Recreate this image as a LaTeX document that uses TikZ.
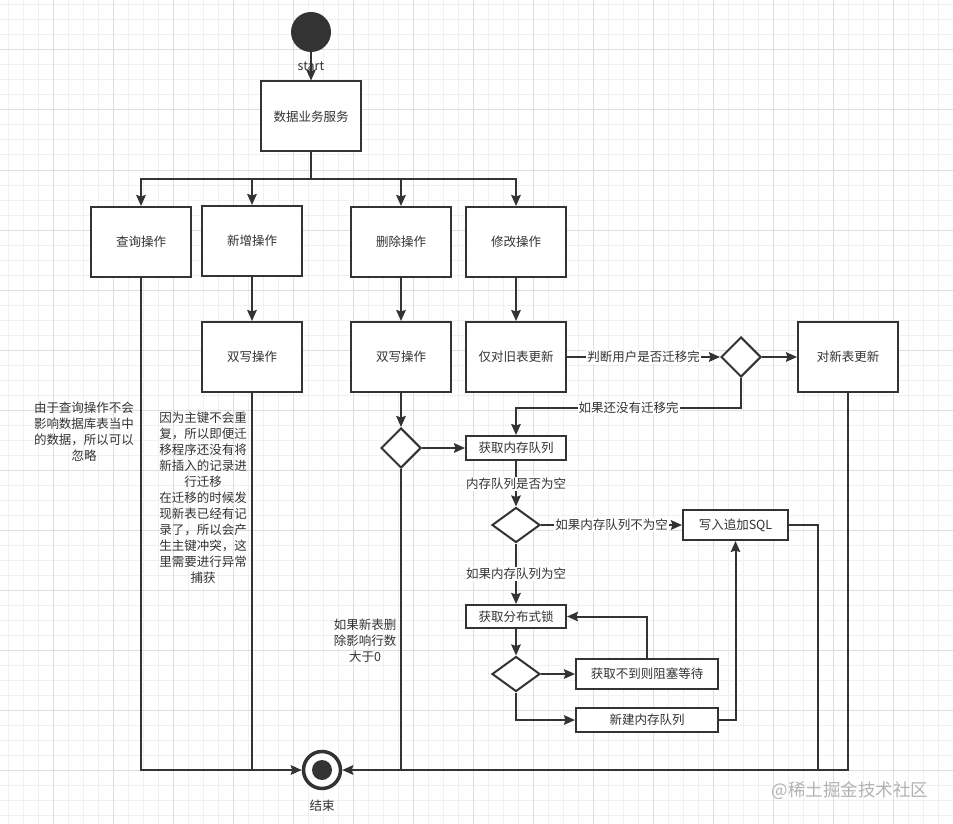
\documentclass[tikz,border=0pt]{standalone}
\usepackage{fontspec}
\newfontfamily\cjk{Noto Sans CJK SC}
\usetikzlibrary{arrows.meta,shapes.geometric}
\definecolor{ink}{HTML}{333333}
\definecolor{gridminor}{HTML}{F0F0F0}
\definecolor{gridmajor}{HTML}{DEDEDE}

\begin{document}
\begin{tikzpicture}[
  x=1pt, y=-1pt,
  font={\cjk\fontsize{12.5}{16}\selectfont},
  box/.style={draw=ink, line width=2pt, fill=white, text=ink, align=center, inner sep=2pt, minimum width=100pt, minimum height=70pt},
  slim/.style={box, minimum height=24pt},
  decision/.style={draw=ink, line width=2pt, fill=white, diamond, inner sep=0pt, minimum width=40pt, minimum height=40pt},
  note/.style={text=ink, align=center},
  lbl/.style={text=ink, fill=white, inner sep=1pt},
  arrow/.style={draw=ink, line width=2pt, -{Stealth[length=11pt, width=9.5pt, inset=1.5pt]}},
  link/.style={draw=ink, line width=2pt},
]
\useasboundingbox (0,0) rectangle (953,824);
\fill[white] (0,0) rectangle (953,824);
% background grid
\foreach \gx in {8,23,...,953} \draw[gridminor, line width=1pt] (\gx,0) -- (\gx,824);
\foreach \gy in {5,20,...,824} \draw[gridminor, line width=1pt] (0,\gy) -- (953,\gy);
\foreach \gx in {53,113,...,953} \draw[gridmajor, line width=1pt] (\gx,0) -- (\gx,824);
\foreach \gy in {50,110,...,824} \draw[gridmajor, line width=1pt] (0,\gy) -- (953,\gy);

% start and service
\node[circle, fill=ink, minimum size=40pt, inner sep=0pt] (start) at (311,32) {};
\node[note] (startlbl) at (311,66) {start};
\node[box] (svc) at (311,116.5) {数据业务服务};
\coordinate (bus) at (311,179);

% operations
\node[box] (query) at (141,242) {查询操作};
\node[box] (insert) at (252,241) {新增操作};
\node[box] (delete) at (401,242) {删除操作};
\node[box] (update) at (516,242) {修改操作};

\node[box] (dw1) at (252,357) {双写操作};
\node[box] (dw2) at (401,357) {双写操作};
\node[box] (oldupd) at (516,357) {仅对旧表更新};
\node[decision] (d1) at (741,357) {};
\node[box] (newupd) at (848,357) {对新表更新};

% memory queue flow
\node[decision] (d2) at (401,448) {};
\node[slim] (getq) at (516,448) {获取内存队列};
\node[decision, minimum width=48pt, minimum height=35pt] (d3) at (516,525) {};
\node[slim, minimum width=105pt, minimum height=30pt] (sql) at (735.5,525) {写入追加SQL};
\node[slim, minimum height=23pt] (lock) at (516,616.5) {获取分布式锁};
\node[decision, minimum width=48pt, minimum height=35pt] (d4) at (516,674) {};
\node[slim, minimum width=142pt, minimum height=30pt] (wait) at (647,674) {获取不到则阻塞等待};
\node[slim, minimum width=142pt] (newq) at (647,720) {新建内存队列};

% end
\node[circle, draw=ink, line width=3.5pt, fill=white, minimum size=37pt, inner sep=0pt] (endc) at (322,770) {};
\node[circle, fill=ink, minimum size=20pt, inner sep=0pt] (enddot) at (endc) {};
\node[note] (endlbl) at (322,806) {结束};
\coordinate (sqlout) at (818,770);

% notes
\node[note] (qnote) at (84,432) {由于查询操作不会\\影响数据库表当中\\的数据，所以可以\\忽略};
\node[note] (inote) at (203,498) {因为主键不会重\\复，所以即便迁\\移程序还没有将\\新插入的记录进\\行迁移\\在迁移的时候发\\现新表已经有记\\录了，所以会产\\生主键冲突，这\\里需要进行异常\\捕获};
\node[note] (dnote) at (365,641) {如果新表删\\除影响行数\\大于0};

% connectors
\draw[arrow] (start) -- (svc);
\draw[link] (svc) -- (bus);
\draw[arrow] (bus) -| (query);
\draw[arrow] (bus) -| (insert);
\draw[arrow] (bus) -| (delete);
\draw[arrow] (bus) -| (update);
\draw[arrow] (insert) -- (dw1);
\draw[arrow] (delete) -- (dw2);
\draw[arrow] (update) -- (oldupd);
\draw[arrow] (oldupd) -- node[lbl]{判断用户是否迁移完} (d1);
\draw[arrow] (d1) -- (newupd);
\draw[arrow] (d1.south) -- ++(0,30) -| node[lbl, pos=0.25]{如果还没有迁移完} (getq.north);
\draw[arrow] (dw2) -- (d2);
\draw[arrow] (d2) -- (getq);
\draw[arrow] (getq) -- node[lbl]{内存队列是否为空} (d3);
\draw[arrow] (d3) -- node[lbl]{如果内存队列不为空} (sql);
\draw[arrow] (d3) -- node[lbl]{如果内存队列为空} (lock);
\draw[arrow] (lock) -- (d4);
\draw[arrow] (d4) -- (wait);
\draw[arrow] (wait.north) |- (lock.east);
\draw[arrow] (d4.south) |- (newq.west);
\draw[arrow] (newq.east) -| (sql.south);

\draw[arrow] (query.south) |- (endc.west);
\draw[link] (dw1.south) -- (dw1.south |- endc.west);
\draw[link] (d2.south) -- (d2.south |- endc.east);
\draw[link] (sql.east) -| (sqlout);
\draw[arrow] (newupd.south) |- (endc.east);

% watermark
\node[text=black!30, font={\cjk\fontsize{17.5}{17.5}\selectfont}] (mark) at (850,791) {@稀土掘金技术社区};
\end{tikzpicture}
\end{document}
